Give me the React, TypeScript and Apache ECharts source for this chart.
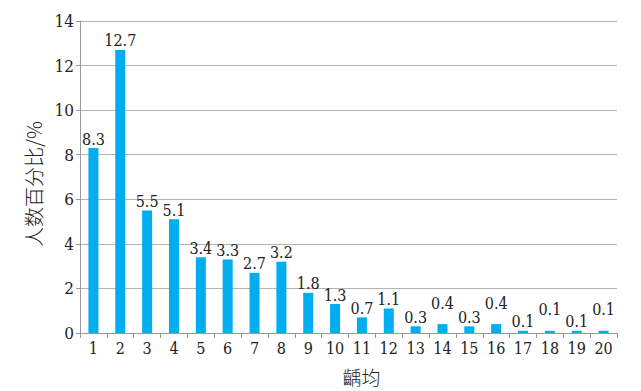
import React, { useEffect, useRef } from "react";
import * as echarts from "echarts";

const categories = ["1","2","3","4","5","6","7","8","9","10","11","12","13","14","15","16","17","18","19","20"];
const values = [8.3, 12.7, 5.5, 5.1, 3.4, 3.3, 2.7, 3.2, 1.8, 1.3, 0.7, 1.1, 0.3, 0.4, 0.3, 0.4, 0.1, 0.1, 0.1, 0.1];
const raisedLabels = ["14", "16", "18", "20"];
const yTicks = { min: 0, max: 14, interval: 2 };
const xName = "齲均";
const yName = "人数百分比/%";

const FONT = "DejaVu Serif Condensed, DejaVu Serif";
const CJK = "Noto Sans CJK SC";

export default function App() {
  const ref = useRef<HTMLDivElement>(null);
  useEffect(() => {
    if (!ref.current) return;
    const chart = echarts.init(ref.current, null, { renderer: "svg" });
    chart.setOption({
      animation: false,
      textStyle: { fontFamily: FONT },
      grid: { left: 80, right: 24, top: 21, bottom: 54 },
      xAxis: {
        type: "category",
        data: categories,
        name: xName,
        nameLocation: "middle",
        nameGap: 34,
        nameTextStyle: { fontFamily: CJK, fontSize: 19, fontWeight: 300, color: "#222", padding: [0, 0, 0, 26] },
        axisLine: { lineStyle: { color: "#999" } },
        axisTick: { show: true, length: 5, lineStyle: { color: "#999" } },
        axisLabel: { fontFamily: FONT, fontSize: 16, color: "#222", margin: 8, interval: 0 },
      },
      yAxis: {
        type: "value",
        min: yTicks.min,
        max: yTicks.max,
        interval: yTicks.interval,
        name: yName,
        nameLocation: "middle",
        nameGap: 29,
        nameTextStyle: { fontFamily: CJK, fontSize: 20, fontWeight: 300, color: "#222", padding: [0, 14, 0, 0] },
        axisLine: { show: true, lineStyle: { color: "#999" } },
        axisTick: { show: true, length: 4, lineStyle: { color: "#999" } },
        axisLabel: { fontFamily: FONT, fontSize: 17, color: "#222", margin: 6 },
        splitLine: { lineStyle: { color: "#b4b4b4" } },
      },
      series: [
        {
          type: "bar",
          barWidth: 10,
          data: values.map((v, i) => ({
            value: v,
            label: raisedLabels.includes(categories[i]) ? { offset: [0, -12] } : undefined,
          })),
          itemStyle: { color: "#00AEEF" },
          label: {
            show: true,
            position: "top",
            distance: 1,
            fontFamily: FONT,
            fontSize: 16,
            color: "#222",
          },
        },
      ],
    });
    return () => chart.dispose();
  }, []);
  return <div ref={ref} style={{ width: 641, height: 391, position: "absolute", left: 0, top: 0 }} />;
}
